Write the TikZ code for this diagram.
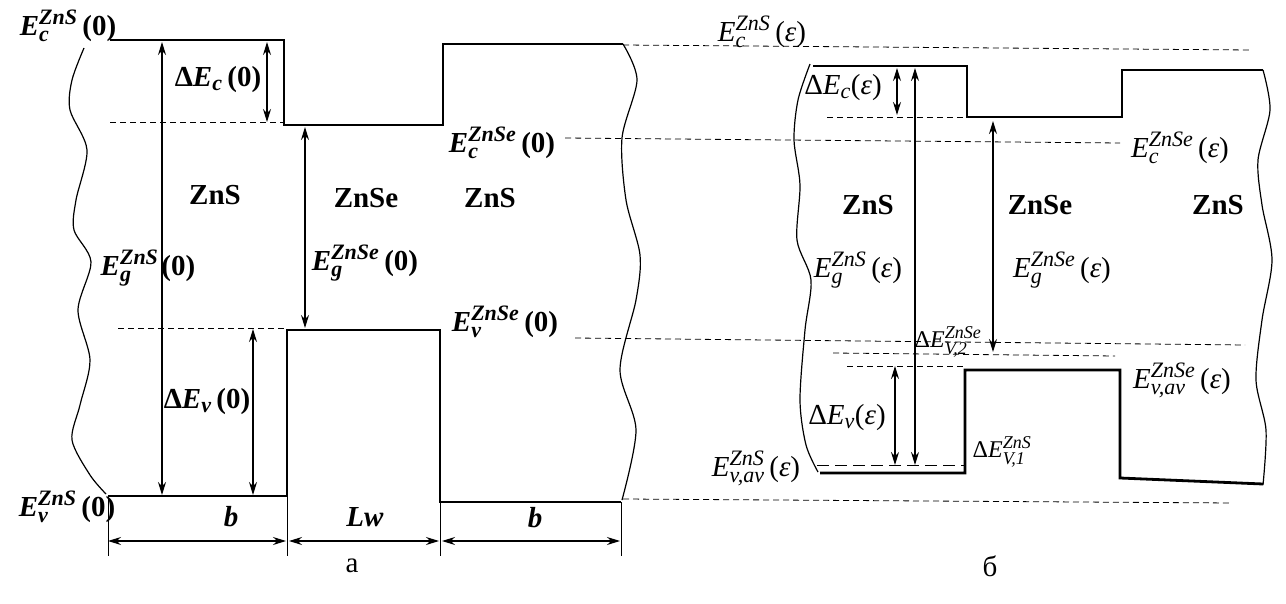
\documentclass[tikz,border=0pt]{standalone}
\usepackage{amsmath}
\usepackage{fontspec}
\setmainfont{Liberation Serif}
\usetikzlibrary{arrows.meta}
\DeclareMathSizes{29}{29}{22}{16}
\DeclareMathSizes{24}{24}{18}{13}
\newcommand{\El}[3]{$\textit{E}^{\text{\itshape #2}}_{\text{\itshape #1}}$#3}
\newcommand{\eps}{(\textit{ε})}
\begin{document}
\begin{tikzpicture}[x=1pt,y=-1pt,
  band/.style={line width=2.8pt, line join=miter},
  extline/.style={line width=1pt},
  arr/.style={line width=1.3pt, {Stealth[length=13pt,width=8pt]}-{Stealth[length=13pt,width=8pt]}},
  dsh/.style={line width=0.8pt, dash pattern=on 6pt off 4pt},
  ldsh/.style={line width=1pt, dash pattern=on 12pt off 6pt},
  wave/.style={line width=1.2pt},
  lab/.style={font=\fontsize{29}{31}\selectfont, inner sep=0pt},
  labb/.style={font=\fontsize{29}{31}\selectfont\bfseries, inner sep=0pt},
  small/.style={font=\fontsize{24}{26}\selectfont, inner sep=0pt},
  mat/.style={font=\fontsize{29}{31}\selectfont\bfseries, inner sep=0pt},
  dimlab/.style={font=\fontsize{29}{31}\selectfont\bfseries\itshape, inner sep=0pt},
  captn/.style={font=\fontsize{29}{31}\selectfont, inner sep=0pt}]
\useasboundingbox (0,0) rectangle (1286,604);

% ---------- panel a : coordinates ----------
\coordinate (a1) at (110,40);  \coordinate (a2) at (284,40);
\coordinate (a3) at (284,125); \coordinate (a4) at (443,125);
\coordinate (a5) at (443,44);  \coordinate (a6) at (623,44);
\coordinate (v1) at (108,496); \coordinate (v2) at (287,496);
\coordinate (v3) at (287,330); \coordinate (v4) at (440,330);
\coordinate (v5) at (440,502); \coordinate (v6) at (621,502);

\draw[band] (a1) -- (a2) -- (a3) -- (a4) -- (a5) -- (a6);
\draw[band] (v1) -- (v2) -- (v3) -- (v4) -- (v5) -- (v6);

% waves
\draw[wave] plot[smooth] coordinates {(84,48) (72,80) (70,110) (87,150) (76,200) (74,230) (91,262) (78,310) (90,360) (80,405) (72,440) (90,475) (106,494)};
\draw[wave] plot[smooth] coordinates {(623,44) (637,80) (622,138) (626,200) (640,255) (636,300) (620,370) (636,430) (622,500)};

% dimension lines
\coordinate (t1a) at (108,496); \coordinate (t1b) at (108,556);
\coordinate (t2a) at (287,496); \coordinate (t2b) at (287,556);
\coordinate (t3a) at (440,502); \coordinate (t3b) at (440,556);
\coordinate (t4a) at (621,502); \coordinate (t4b) at (621,556);
\draw[extline] (t1a) -- (t1b); \draw[extline] (t2a) -- (t2b);
\draw[extline] (t3a) -- (t3b); \draw[extline] (t4a) -- (t4b);
\coordinate (m1) at (108,541); \coordinate (m2) at (286,541);
\coordinate (m3) at (289,541); \coordinate (m4) at (439,541);
\coordinate (m5) at (442,541); \coordinate (m6) at (620,541);
\draw[arr] (m1) -- (m2);
\draw[arr] (m3) -- (m4);
\draw[arr] (m5) -- (m6);
\node[dimlab] (lb1) at (231,517) {b};
\node[dimlab] (llw) at (365,517) {Lw};
\node[dimlab] (lb2) at (535,518) {b};

% dashed levels (a)
\coordinate (d1a) at (110,122); \coordinate (d1b) at (283,122);
\draw[dsh] (d1a) -- (d1b);
\coordinate (d3a) at (118,328); \coordinate (d3b) at (285,328);
\draw[dsh] (d3a) -- (d3b);

% arrows (a)
\coordinate (p1a) at (267,42);  \coordinate (p1b) at (267,122);
\coordinate (p2a) at (162,42);  \coordinate (p2b) at (162,495);
\coordinate (p3a) at (305,127); \coordinate (p3b) at (305,328);
\coordinate (p4a) at (253,329); \coordinate (p4b) at (253,495);
\draw[arr] (p1a) -- (p1b);
\draw[arr] (p2a) -- (p2b);
\draw[arr] (p3a) -- (p3b);
\draw[arr] (p4a) -- (p4b);

% labels (a)
\node[labb] (lEc) at (68,26) {\El{c}{ZnS}{\,(0)}};
\node[labb] (lDEc) at (218,80) {Δ$\textit{E}_{\text{\itshape c}}$\,(0)};
\node[labb] (lEgS) at (148,268) {\El{g}{ZnS}{\hspace{3pt}(0)}};
\node[labb] (lEgSe) at (365,263) {\El{g}{ZnSe}{\,(0)}};
\node[labb] (lEcSe) at (502,143) {\El{c}{ZnSe}{\,(0)}};
\node[labb] (lEvSe) at (505,322) {\El{v}{ZnSe}{\,(0)}};
\node[labb] (lDEv) at (207,402) {Δ$\textit{E}_{\text{\itshape v}}$\,(0)};
\node[labb] (lEvS) at (67,507) {\El{v}{ZnS}{\,(0)}};
\node[mat] (mS1) at (215,195) {ZnS};
\node[mat] (mSe1) at (366,198) {ZnSe};
\node[mat] (mS2) at (490,198) {ZnS};

% long dashed levels linking a and б
\coordinate (L1a) at (623,45);  \coordinate (L1b) at (1250,50);
\coordinate (L2a) at (565,138); \coordinate (L2b) at (1120,143);
\coordinate (L3a) at (575,338); \coordinate (L3b) at (1245,345);
\coordinate (L4a) at (623,499); \coordinate (L4b) at (1232,503);
\draw[dsh] (L1a) -- (L1b);
\draw[dsh] (L2a) -- (L2b);
\draw[dsh] (L3a) -- (L3b);
\draw[dsh] (L4a) -- (L4b);

% ---------- panel б ----------
\coordinate (b1) at (813,66);   \coordinate (b2) at (967,66);
\coordinate (b3) at (967,117);  \coordinate (b4) at (1122,117);
\coordinate (b5) at (1122,70);  \coordinate (b6) at (1263,70);
\coordinate (w1) at (820,473);  \coordinate (w2) at (965,473);
\coordinate (w3) at (965,370);  \coordinate (w4) at (1120,370);
\coordinate (w5) at (1120,478); \coordinate (w6) at (1263,484);
\draw[band] (b1) -- (b2) -- (b3) -- (b4) -- (b5) -- (b6);
\draw[band] (w1) -- (w2) -- (w3) -- (w4) -- (w5) -- (w6);

\draw[wave] plot[smooth] coordinates {(810,64) (798,100) (794,140) (800,185) (797,240) (811,280) (805,330) (800,400) (806,445) (818,472)};
\draw[wave] plot[smooth] coordinates {(1263,70) (1270,110) (1258,160) (1262,205) (1272,260) (1262,320) (1256,380) (1266,430) (1263,485)};

\coordinate (e1a) at (827,117); \coordinate (e1b) at (967,117);
\draw[dsh] (e1a) -- (e1b);
\coordinate (e2a) at (833,353); \coordinate (e2b) at (1115,356);
\draw[dsh] (e2a) -- (e2b);
\coordinate (e3a) at (847,366); \coordinate (e3b) at (965,366);
\draw[dsh] (e3a) -- (e3b);
\coordinate (e4a) at (817,465); \coordinate (e4b) at (965,465);
\draw[ldsh] (e4a) -- (e4b);

\coordinate (q1a) at (897,68);  \coordinate (q1b) at (897,115);
\coordinate (q2a) at (915,68);  \coordinate (q2b) at (915,465);
\coordinate (q3a) at (993,121); \coordinate (q3b) at (993,352);
\coordinate (q4a) at (895,366); \coordinate (q4b) at (895,465);
\draw[arr] (q1a) -- (q1b);
\draw[arr] (q2a) -- (q2b);
\draw[arr] (q3a) -- (q3b);
\draw[arr] (q4a) -- (q4b);

\node[lab] (lEcE) at (762,32) {\El{c}{ZnS}{\,\eps}};
\node[lab] (lDEcE) at (843,88) {Δ$\textit{E}_{\text{\itshape c}}$\eps};
\node[lab] (lEcSeE) at (1180,148) {\El{c}{ZnSe}{\,\eps}};
\node[mat] (mS3) at (868,205) {ZnS};
\node[mat] (mSe2) at (1040,205) {ZnSe};
\node[mat] (mS4) at (1218,205) {ZnS};
\node[lab] (lEgSE) at (858,270) {\El{g}{ZnS}{\,\eps}};
\node[lab] (lEgSeE) at (1062,270) {\El{g}{ZnSe}{\,\eps}};
\node[small] (lDV2) at (948,342) {Δ\El{V,2}{ZnSe}{}};
\node[lab] (lEvavSe) at (1182,380) {\El{v,av}{ZnSe}{\,\eps}};
\node[lab] (lDEvE) at (847,418) {Δ$\textit{E}_{\text{\itshape v}}$\eps};
\node[lab] (lEvavS) at (756,468) {\El{v,av}{ZnS}{\,\eps}};
\node[small] (lDV1) at (1002,452) {Δ\El{V,1}{ZnS}{}};

% captions
\node[captn] (ca) at (352,566) {а};
\node[captn] (cb) at (990,566) {б};
\end{tikzpicture}
\end{document}
